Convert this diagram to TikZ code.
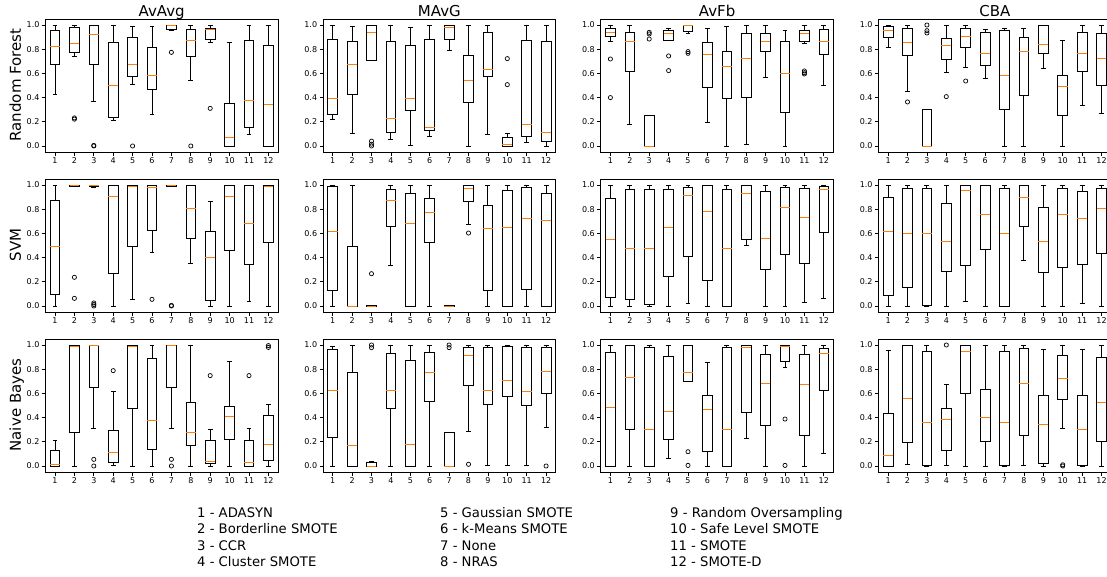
\documentclass[tikz,border=0pt]{standalone}
\usepackage{fontspec}
\setmainfont{DejaVu Sans}
\definecolor{mplorange}{HTML}{FF7F0E}
\tikzset{
 bxline/.style={draw=black, line width=0.9pt},
 medline/.style={draw=mplorange, line width=0.9pt},
 flier/.style={draw=black, line width=0.7pt},
 spine/.style={draw=black, line width=0.8pt},
 ticklab/.style={font=\fontsize{8}{9}\selectfont, inner sep=0pt},
 paneltitle/.style={font=\fontsize{15}{18}\selectfont, inner sep=0pt, anchor=base},
 rowlab/.style={font=\fontsize{15}{18}\selectfont, inner sep=0pt, anchor=base, rotate=90},
 legtext/.style={font=\fontsize{13.2}{16}\selectfont, inner sep=0pt, anchor=base west},
 pan/.style 2 args={xshift={35.6pt+277.7pt*#1}, yshift={431pt-160pt*#2}, x=19.4pt, y=121pt},
}
\newcommand\bxp[6]{%
 \draw[bxline] (#1,#2) -- (#1,#3) (#1,#5) -- (#1,#6) (#1-0.125,#2) -- (#1+0.125,#2) (#1-0.125,#6) -- (#1+0.125,#6);
 \draw[bxline] (#1-0.25,#3) rectangle (#1+0.25,#5);
 \draw[medline] (#1-0.25,#4) -- (#1+0.25,#4);}
\newcommand\flr[2]{\draw[flier] (#1,#2) circle[radius=2.1pt];}
\newcommand\frm[1]{%
 \draw[spine] (0.5,-0.05) rectangle (12.5,1.05);
 \foreach \v/\t [count=\k] in {0/0.0,0.2/0.2,0.4/0.4,0.6/0.6,0.8/0.8,1/1.0}{\draw[spine] (0.5,\v) -- ++(-3.5pt,0) node[ticklab, anchor=east, xshift=-2pt] (y#1n\k) {\t};}
 \foreach \i in {1,...,12}{\draw[spine] (\i,-0.05) -- ++(0,-3.5pt) node[ticklab, anchor=north, yshift=-1.5pt] (x#1n\i) {\i};}
}
\begin{document}
\begin{tikzpicture}[x=1pt,y=1pt]
\clip (0,0) rectangle (1107,577);
\fill[white] (0,0) rectangle (1107,577);
% titles
\node[paneltitle] (t1) at (161.7,560.3) {AvAvg};
\node[paneltitle] (t2) at (439.4,560.3) {MAvG};
\node[paneltitle] (t3) at (717.1,560.3) {AvFb};
\node[paneltitle] (t4) at (994.8,560.3) {CBA};
\node[rowlab] (r1) at (21,492) {Random Forest};
\node[rowlab] (r2) at (21,332) {SVM};
\node[rowlab] (r3) at (21,172) {Naive Bayes};
% ---------------- Row 1: Random Forest
\begin{scope}[pan={0}{0}]
\bxp{1}{0.43}{0.675}{0.82}{0.953}{1}
\bxp{2}{0.738}{0.774}{0.848}{0.978}{1} \flr{2}{0.222}\flr{2}{0.232}
\bxp{3}{0.372}{0.678}{0.923}{0.994}{1} \flr{3}{0}\flr{3}{0.005}
\bxp{4}{0.207}{0.234}{0.499}{0.857}{1}
\bxp{5}{0.51}{0.576}{0.675}{0.895}{0.99} \flr{5}{0}
\bxp{6}{0.259}{0.468}{0.579}{0.815}{0.99}
\bxp{7}{0.955}{0.96}{0.995}{1}{1} \flr{7}{0.774}
\bxp{8}{0.543}{0.736}{0.873}{0.961}{1} \flr{8}{0}
\bxp{9}{0.854}{0.879}{0.963}{0.97}{1} \flr{9}{0.311}
\bxp{10}{0}{0}{0.072}{0.35}{0.854}
\bxp{11}{0.094}{0.157}{0.377}{0.873}{1}
\bxp{12}{0}{0}{0.344}{0.829}{1}
\frm{a}
\end{scope}
\begin{scope}[pan={1}{0}]
\bxp{1}{0.22}{0.262}{0.397}{0.879}{1}
\bxp{2}{0.107}{0.424}{0.672}{0.868}{0.99}
\bxp{3}{0.708}{0.708}{0.942}{1}{1} \flr{3}{0}\flr{3}{0.015}\flr{3}{0.04}
\bxp{4}{0.055}{0.11}{0.229}{0.865}{1}
\bxp{5}{0.005}{0.292}{0.394}{0.829}{0.983}
\bxp{6}{0.077}{0.129}{0.151}{0.884}{1}
\bxp{7}{0.79}{0.88}{0.978}{1}{1}
\bxp{8}{0}{0.358}{0.545}{0.746}{0.994}
\bxp{9}{0.094}{0.576}{0.634}{0.939}{1}
\bxp{10}{0}{0}{0.011}{0.074}{0.105} \flr{10}{0.722}\flr{10}{0.507}
\bxp{11}{0.03}{0.077}{0.179}{0.876}{1}
\bxp{12}{0}{0.039}{0.116}{0.862}{1}
\frm{b}
\end{scope}
\begin{scope}[pan={2}{0}]
\bxp{1}{0.868}{0.904}{0.939}{0.972}{1} \flr{1}{0.719}\flr{1}{0.4}
\bxp{2}{0.179}{0.612}{0.868}{0.942}{0.994}
\bxp{3}{0}{0}{0}{0.256}{0.256} \flr{3}{0.939}\flr{3}{0.926}\flr{3}{0.884}
\bxp{4}{0.876}{0.876}{0.934}{0.953}{0.975} \flr{4}{0.744}\flr{4}{0.623}
\bxp{5}{0.926}{0.95}{1}{1}{1} \flr{5}{0.78}\flr{5}{0.766}
\bxp{6}{0.196}{0.482}{0.758}{0.857}{0.97}
\bxp{7}{0}{0.397}{0.661}{0.78}{0.986}
\bxp{8}{0.014}{0.4}{0.722}{0.926}{1}
\bxp{9}{0.565}{0.78}{0.865}{0.934}{1}
\bxp{10}{0}{0.281}{0.603}{0.868}{0.953}
\bxp{11}{0.848}{0.862}{0.931}{0.953}{1} \flr{11}{0.62}\flr{11}{0.606}\flr{11}{0.595}
\bxp{12}{0.499}{0.76}{0.862}{0.961}{1}
\frm{c}
\end{scope}
\begin{scope}[pan={3}{0}]
\bxp{1}{0.818}{0.898}{0.953}{0.989}{1}
\bxp{2}{0.452}{0.749}{0.857}{0.97}{1} \flr{2}{0.364}
\bxp{3}{0}{0}{0}{0.303}{0.303} \flr{3}{1}\flr{3}{0.953}\flr{3}{0.934}
\bxp{4}{0.609}{0.716}{0.829}{0.887}{1} \flr{4}{0.408}
\bxp{5}{0.645}{0.815}{0.906}{0.975}{1} \flr{5}{0.537}
\bxp{6}{0.556}{0.669}{0.766}{0.939}{0.967}
\bxp{7}{0}{0.3}{0.579}{0.956}{0.975}
\bxp{8}{0}{0.416}{0.785}{0.893}{0.972}
\bxp{9}{0.639}{0.766}{0.84}{0.994}{1}
\bxp{10}{0}{0.253}{0.493}{0.579}{0.871}
\bxp{11}{0.336}{0.62}{0.766}{0.942}{1}
\bxp{12}{0.273}{0.501}{0.722}{0.931}{1}
\frm{d}
\end{scope}
% ---------------- Row 2: SVM
\begin{scope}[pan={0}{1}]
\bxp{1}{0}{0.094}{0.49}{0.873}{1}
\bxp{2}{0.986}{0.992}{0.997}{1}{1} \flr{2}{0.237}\flr{2}{0.063}
\bxp{3}{0.983}{0.99}{0.997}{1}{1} \flr{3}{0.025}\flr{3}{0.012}\flr{3}{0}
\bxp{4}{0}{0.27}{0.906}{1}{1}
\bxp{5}{0.058}{0.493}{0.989}{1}{1}
\bxp{6}{0.446}{0.628}{0.978}{0.997}{1} \flr{6}{0.055}
\bxp{7}{0.986}{0.992}{0.997}{1}{1} \flr{7}{0}\flr{7}{0.005}
\bxp{8}{0.353}{0.556}{0.807}{0.997}{1}
\bxp{9}{0}{0.044}{0.405}{0.617}{0.868}
\bxp{10}{0}{0.455}{0.906}{1}{1}
\bxp{11}{0.036}{0.344}{0.68}{0.994}{1}
\bxp{12}{0}{0.526}{0.992}{1}{1}
\frm{e}
\end{scope}
\begin{scope}[pan={1}{1}]
\bxp{1}{0}{0.129}{0.612}{0.989}{1}
\bxp{2}{0}{0}{0}{0.488}{1}
\bxp{3}{0}{0}{0}{0.005}{0.005} \flr{3}{0.267}
\bxp{4}{0.339}{0.661}{0.871}{0.961}{1}
\bxp{5}{0}{0}{0.683}{0.928}{1}
\bxp{6}{0}{0.526}{0.769}{0.887}{1}
\bxp{7}{0}{0}{0}{0.003}{0.003}
\bxp{8}{0.675}{0.86}{0.972}{1}{1} \flr{8}{0.603}
\bxp{9}{0}{0.129}{0.639}{0.832}{1}
\bxp{10}{0}{0}{0.65}{0.956}{1}
\bxp{11}{0}{0.135}{0.725}{0.983}{1}
\bxp{12}{0}{0}{0.708}{0.928}{0.994}
\frm{f}
\end{scope}
\begin{scope}[pan={2}{1}]
\bxp{1}{0}{0.072}{0.548}{0.89}{1}
\bxp{2}{0}{0.058}{0.474}{0.967}{1}
\bxp{3}{0}{0.011}{0.474}{0.967}{1}
\bxp{4}{0}{0.248}{0.645}{0.967}{1}
\bxp{5}{0.022}{0.408}{0.915}{0.981}{1}
\bxp{6}{0}{0.212}{0.782}{1}{1}
\bxp{7}{0}{0}{0.474}{0.964}{1}
\bxp{8}{0.501}{0.551}{0.928}{1}{1}
\bxp{9}{0}{0.303}{0.562}{0.95}{1}
\bxp{10}{0}{0.424}{0.815}{0.983}{1}
\bxp{11}{0.028}{0.353}{0.733}{0.972}{1}
\bxp{12}{0.063}{0.609}{0.964}{0.992}{1}
\frm{g}
\end{scope}
\begin{scope}[pan={3}{1}]
\bxp{1}{0}{0.091}{0.617}{0.901}{1}
\bxp{2}{0}{0.152}{0.601}{0.972}{1}
\bxp{3}{0}{0.008}{0.601}{0.972}{1}
\bxp{4}{0}{0.289}{0.534}{0.848}{1}
\bxp{5}{0.036}{0.339}{0.953}{1}{1}
\bxp{6}{0}{0.471}{0.758}{1}{1}
\bxp{7}{0}{0}{0.601}{0.972}{1}
\bxp{8}{0.38}{0.661}{0.895}{1}{1}
\bxp{9}{0}{0.278}{0.534}{0.813}{0.997}
\bxp{10}{0}{0.322}{0.758}{0.972}{1}
\bxp{11}{0.025}{0.344}{0.727}{0.948}{1}
\bxp{12}{0}{0.435}{0.807}{0.972}{1}
\frm{h}
\end{scope}
% ---------------- Row 3: Naive Bayes
\begin{scope}[pan={0}{2}]
\bxp{1}{0}{0}{0.014}{0.129}{0.209}
\bxp{2}{0}{0.281}{0.992}{1}{1}
\bxp{3}{0.309}{0.65}{1}{1}{1} \flr{3}{0.055}\flr{3}{0}
\bxp{4}{0.005}{0.03}{0.113}{0.295}{0.614} \flr{4}{0.788}
\bxp{5}{0}{0.477}{0.992}{1}{1}
\bxp{6}{0}{0.138}{0.38}{0.887}{1}
\bxp{7}{0.309}{0.65}{1}{1}{1} \flr{7}{0.055}\flr{7}{0}
\bxp{8}{0}{0.168}{0.281}{0.526}{1}
\bxp{9}{0}{0.017}{0.041}{0.215}{0.298} \flr{9}{0.747}
\bxp{10}{0}{0.22}{0.413}{0.496}{0.86}
\bxp{11}{0}{0}{0.03}{0.209}{0.309} \flr{11}{0.747}
\bxp{12}{0}{0.044}{0.179}{0.419}{0.507} \flr{12}{0.98}\flr{12}{0.995}
\frm{i}
\end{scope}
\begin{scope}[pan={1}{2}]
\bxp{1}{0}{0.237}{0.628}{0.967}{0.989}
\bxp{2}{0}{0}{0.171}{0.774}{1}
\bxp{3}{0}{0}{0}{0.028}{0.039} \flr{3}{1}\flr{3}{0.978}
\bxp{4}{0}{0.477}{0.623}{0.928}{1}
\bxp{5}{0}{0}{0.179}{0.871}{1}
\bxp{6}{0}{0.534}{0.771}{0.942}{1}
\bxp{7}{0}{0}{0}{0.275}{0.275} \flr{7}{1}\flr{7}{0.978}
\bxp{8}{0.287}{0.664}{0.915}{0.978}{1} \flr{8}{0.014}
\bxp{9}{0.005}{0.507}{0.623}{0.978}{1}
\bxp{10}{0.005}{0.573}{0.705}{0.992}{1}
\bxp{11}{0.005}{0.501}{0.62}{0.978}{1}
\bxp{12}{0.317}{0.601}{0.785}{0.978}{0.994} \flr{12}{0}
\frm{j}
\end{scope}
\begin{scope}[pan={2}{2}]
\bxp{1}{0}{0}{0.482}{0.939}{1}
\bxp{2}{0}{0.303}{0.73}{1}{1}
\bxp{3}{0}{0}{0.303}{0.978}{1}
\bxp{4}{0.066}{0.22}{0.452}{0.904}{1}
\bxp{5}{0.702}{0.702}{0.769}{1}{1} \flr{5}{0.118}\flr{5}{0.005}
\bxp{6}{0}{0.124}{0.468}{0.584}{0.854}
\bxp{7}{0}{0}{0.303}{0.978}{1}
\bxp{8}{0.226}{0.444}{0.978}{1}{1}
\bxp{9}{0}{0.331}{0.686}{0.923}{1}
\bxp{10}{0.813}{0.868}{0.989}{1}{1} \flr{10}{0.388}\flr{10}{0.005}
\bxp{11}{0}{0.256}{0.678}{0.923}{1}
\bxp{12}{0.102}{0.623}{0.931}{0.975}{0.997}
\frm{k}
\end{scope}
\begin{scope}[pan={3}{2}]
\bxp{1}{0}{0}{0.088}{0.438}{0.956}
\bxp{2}{0.014}{0.193}{0.556}{1}{1}
\bxp{3}{0}{0.008}{0.361}{0.95}{1}
\bxp{4}{0.005}{0.127}{0.386}{0.474}{0.678} \flr{4}{1}
\bxp{5}{0}{0.601}{0.945}{1}{1}
\bxp{6}{0}{0.201}{0.405}{0.634}{1}
\bxp{7}{0}{0.008}{0.361}{0.95}{1}
\bxp{8}{0.008}{0.253}{0.683}{0.972}{1}
\bxp{9}{0}{0.022}{0.342}{0.581}{0.967}
\bxp{10}{0.309}{0.554}{0.727}{0.915}{1} \flr{10}{0}\flr{10}{0.01}
\bxp{11}{0}{0.005}{0.3}{0.587}{0.967}
\bxp{12}{0}{0.201}{0.523}{0.893}{0.994}
\frm{l}
\end{scope}
% ---------------- Legend
\node[legtext] (l1) at (197,59.5) {1 - ADASYN};
\node[legtext] (l2) at (197,43) {2 - Borderline SMOTE};
\node[legtext] (l3) at (197,26.5) {3 - CCR};
\node[legtext] (l4) at (197,10) {4 - Cluster SMOTE};
\node[legtext] (l5) at (440,59.5) {5 - Gaussian SMOTE};
\node[legtext] (l6) at (440,43) {6 - k-Means SMOTE};
\node[legtext] (l7) at (440,26.5) {7 - None};
\node[legtext] (l8) at (440,10) {8 - NRAS};
\node[legtext] (l9) at (670,59.5) {9 - Random Oversampling};
\node[legtext] (l10) at (670,43) {10 - Safe Level SMOTE};
\node[legtext] (l11) at (670,26.5) {11 - SMOTE};
\node[legtext] (l12) at (670,10) {12 - SMOTE-D};
\end{tikzpicture}
\end{document}
